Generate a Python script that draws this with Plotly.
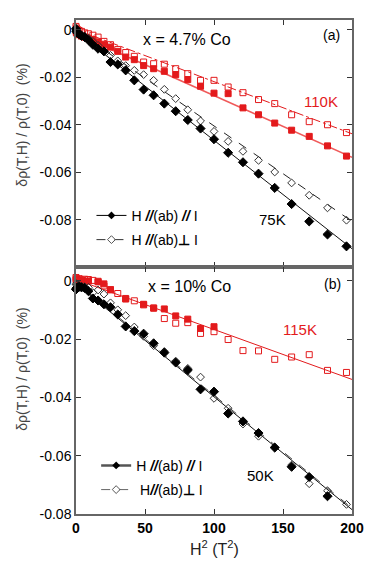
import plotly.graph_objects as go
from plotly.subplots import make_subplots

# H^2 (T^2), field swept in 0.5 T steps
H2 = [0, 0.25, 1, 2.25, 4, 6.25, 9, 12.25, 16, 20.25, 25, 30.25, 36, 42.25, 49,
      56.25, 64, 72.25, 81, 90.25, 100, 110.25, 121, 132.25, 144, 156.25, 169,
      182.25, 196]

# (a) x = 4.7% Co
a_75K_par = [0.0005, -0.0005, -0.0012, -0.0018, -0.0025, -0.0030, -0.0043, -0.0062,
             -0.0079, -0.0090, -0.0135, -0.0145, -0.0170, -0.0212, -0.0251, -0.0275,
             -0.0310, -0.0342, -0.0379, -0.0415, -0.0460, -0.0517, -0.0557, -0.0605,
             -0.0665, -0.0733, -0.0806, -0.0861, -0.0911]
a_75K_perp = [0.0, -0.0008, -0.0012, -0.0016, -0.0020, -0.0026, -0.0035, -0.0048,
              -0.0065, -0.0088, -0.0107, -0.0130, -0.0150, -0.0170, -0.0188, -0.0212,
              -0.0250, -0.0289, -0.0336, -0.0383, -0.0427, -0.0469, -0.0511, -0.0549,
              -0.0598, -0.0644, -0.0696, -0.0749, -0.0801]
a_110K_par = [-0.0005, -0.0012, -0.0015, -0.0020, -0.0026, -0.0030, -0.0035, -0.0040,
              -0.0050, -0.0060, -0.0072, -0.0090, -0.0114, -0.0125, -0.0150, -0.0163,
              -0.0174, -0.0188, -0.0209, -0.0237, -0.0266, -0.0268, -0.0328, -0.0357,
              -0.0392, -0.0422, -0.0448, -0.0488, -0.0531]
a_110K_perp = [0.0015, 0.0008, 0.0002, -0.0002, -0.0006, -0.0012, -0.0016, -0.0022,
               -0.0030, -0.0048, -0.0062, -0.0082, -0.0095, -0.0111, -0.0135, -0.0142,
               -0.0144, -0.0163, -0.0184, -0.0212, -0.0212, -0.0240, -0.0264, -0.0293,
               -0.0310, -0.0357, -0.0386, -0.0399, -0.0432]

# (b) x = 10% Co
b_50K_par = [-0.0029, -0.0025, -0.0022, -0.0020, -0.0022, -0.0024, -0.0035, -0.0060,
             -0.0067, -0.0080, -0.0090, -0.0115, -0.0156, -0.0172, -0.0181, -0.0214,
             -0.0246, -0.0280, -0.0306, -0.0372, -0.0380, -0.0455, -0.0482, -0.0522,
             -0.0572, -0.0638, -0.0673, -0.0739]
b_50K_perp = [-0.0012, -0.0010, -0.0012, -0.0015, -0.0018, -0.0020, -0.0022, -0.0040,
              -0.0031, -0.0045, -0.0075, -0.0099, -0.0119, -0.0158, -0.0190, -0.0222,
              -0.0242, -0.0275, -0.0300, -0.0330, -0.0403, -0.0437, -0.0491, -0.0533,
              -0.0570, -0.0632, -0.0696, -0.0720, -0.0767]
b_115K_par_x = [0, 1, 4, 9, 16, 20.25, 25, 36, 49, 56.25, 64, 72.25, 81, 90.25, 100]
b_115K_par = [0.0004, 0.0003, 0.0002, 0.0, -0.0003, -0.0010, -0.0030, -0.0062, -0.0080,
              -0.0093, -0.0096, -0.0120, -0.0131, -0.0163, -0.0157]
b_115K_perp = [0.0012, 0.0008, 0.0005, 0.0008, 0.0004, 0.0006, 0.0005, 0.0002, -0.0001,
               -0.0017, -0.0030, -0.0043, -0.0060, -0.0068, -0.0082, -0.0093, -0.0129,
               -0.0145, -0.0143, -0.0180, -0.0174, -0.0201, -0.0239, -0.0240, -0.0269,
               -0.0261, -0.0253, -0.0307, -0.0314]

# linear fits (end points)
fit_x = [0, 200]
fit_a_75K_par = [-0.0008, -0.0921]
fit_a_75K_perp = [-0.0002, -0.0806]
fit_a_110K_par = [-0.0016, -0.0536]
fit_a_110K_perp = [0.0002, -0.0437]
fit_b_50K_par = [-0.0010, -0.0785]
fit_b_50K_perp = [-0.0005, -0.0780]
fit_b_115K = [0.0005, -0.0338]

x_ticks = [0, 50, 100, 150, 200]
y_ticks = [0, -0.02, -0.04, -0.06, -0.08]
y_ticktext = ["0", "-0.02", "-0.04", "-0.06", "-0.08"]

RED = "#e31a1c"
FONT = "Arial, Liberation Sans, sans-serif"

fig = make_subplots(rows=2, cols=1, shared_xaxes=True, vertical_spacing=0)


def pts(x, y, row, symbol, color, fill, size=6):
    fig.add_trace(go.Scatter(
        x=x, y=y, mode="markers", showlegend=False, cliponaxis=False,
        marker=dict(symbol=symbol, size=size, color=fill,
                    line=dict(color=color, width=1)),
    ), row=row, col=1)


def fit(y, row, color, dash, width=1):
    fig.add_trace(go.Scatter(
        x=fit_x, y=y, mode="lines", showlegend=False,
        line=dict(color=color, width=width, dash=dash),
    ), row=row, col=1)


# (a)
fit(fit_a_110K_perp, 1, RED, "dashdot", 1)
fit(fit_a_110K_par, 1, "#f05a5a", "solid", 1.6)
fit(fit_a_75K_perp, 1, "#222", "dash", 1)
fit(fit_a_75K_par, 1, "#111", "solid", 1)
pts(H2, a_110K_perp, 1, "square-open", RED, RED, 6)
pts(H2, a_110K_par, 1, "square", RED, RED, 6)
pts(H2, a_75K_perp, 1, "diamond-open", "#333", "#333", 6)
pts(H2, a_75K_par, 1, "diamond", "black", "black", 7)

# (b)
fit(fit_b_115K, 2, RED, "solid", 1)
fit(fit_b_50K_perp, 2, "#444", "dash", 1)
fit(fit_b_50K_par, 2, "#111", "solid", 1)
pts(H2, b_115K_perp, 2, "square-open", RED, RED, 6)
pts(b_115K_par_x, b_115K_par, 2, "square", RED, RED, 6)
pts(H2, b_50K_perp, 2, "diamond-open", "#333", "#333", 6)
pts(H2[:len(b_50K_par)], b_50K_par, 2, "diamond", "black", "black", 7)

# legend entries
LEG_PAR = "H <b><i>//</i></b>(ab) <b><i>//</i></b> I"
LEG_PERP = "H <b><i>//</i></b>(ab)<b>⊥</b> I"
for name, sym, dash, lc, lw, leg, grp in [
    (LEG_PAR, "diamond", "solid", "black", 1, "legend", "a1"),
    (LEG_PERP, "diamond-open", "dash", "#333", 1, "legend", "a2"),
    (LEG_PAR, "diamond", "solid", "#555", 2.5, "legend2", "b1"),
    (" " + LEG_PERP.replace("H ", "H"), "diamond-open", "dash", "#666", 1, "legend2", "b2"),
]:
    fig.add_trace(go.Scatter(
        x=[None], y=[None], mode="lines+markers", name=name, legend=leg,
        legendgroup=grp,
        line=dict(color=lc, width=lw, dash=dash),
        marker=dict(symbol=sym, size=6, color="black" if sym == "diamond" else "#555"),
    ), row=1, col=1)

axis_common = dict(
    showgrid=False, zeroline=False, ticks="inside", ticklen=5, tickwidth=1,
    tickcolor="#333", showline=True, linecolor="#666", linewidth=1.5, mirror="ticks",
)
fig.update_xaxes(range=[0, 200], tickvals=x_ticks, **axis_common)
fig.update_xaxes(showticklabels=False, row=1, col=1)
fig.update_xaxes(tickfont=dict(family=FONT, size=14, color="black", weight="bold"),
                 row=2, col=1)
fig.update_yaxes(tickvals=y_ticks, ticktext=y_ticktext,
                 tickfont=dict(family=FONT, size=14, color="black"), **axis_common)
fig.update_yaxes(range=[-0.0998, 0.0042], row=1, col=1)
fig.update_yaxes(range=[-0.08, 0.0048], row=2, col=1)

ann = [
    dict(x=80.4, y=-0.0042, xref="x", yref="y", text="x = 4.7% Co", font=dict(size=16)),
    dict(x=185, y=-0.0021, xref="x", yref="y", text="(a)", font=dict(size=14)),
    dict(x=177.6, y=-0.0303, xref="x", yref="y", text="110K", font=dict(size=15, color=RED)),
    dict(x=142.7, y=-0.0800, xref="x", yref="y", text="75K", font=dict(size=15)),
    dict(x=82.5, y=-0.0020, xref="x2", yref="y2", text="x = 10% Co", font=dict(size=16)),
    dict(x=186, y=-0.0010, xref="x2", yref="y2", text="(b)", font=dict(size=14)),
    dict(x=162.2, y=-0.0167, xref="x2", yref="y2", text="115K", font=dict(size=15, color=RED)),
    dict(x=133.6, y=-0.0667, xref="x2", yref="y2", text="50K", font=dict(size=15)),
    dict(x=-0.196, y=0.788, xref="paper", yref="paper", textangle=-90,
         text="δρ(T,H) / ρ(T,0)  (%)", font=dict(size=14, color="#444")),
    dict(x=-0.196, y=0.294, xref="paper", yref="paper", textangle=-90,
         text="δρ(T,H) / ρ(T,0)  (%)", font=dict(size=14, color="#444")),
    dict(x=0.5, y=-0.0685, xref="paper", yref="paper",
         text="H<sup>2</sup> (T<sup>2</sup>)", font=dict(size=16, color="#222")),
]
for a in ann:
    a.setdefault("showarrow", False)
    a.setdefault("xanchor", "center")
    a.setdefault("yanchor", "middle")
    a["font"].setdefault("color", "black")
    a["font"]["family"] = FONT
    fig.add_annotation(**a)

legend_common = dict(bgcolor="rgba(0,0,0,0)", borderwidth=0, tracegroupgap=3,
                     font=dict(family=FONT, size=14, color="black"),
                     xanchor="left", yanchor="top")
# the page body keeps an 8px margin, so the figure is 8px smaller on each side
fig.update_layout(
    width=366, height=557,
    margin=dict(l=68, r=12, t=10, b=51),
    paper_bgcolor="white", plot_bgcolor="white",
    font=dict(family=FONT),
    legend=dict(x=0.056, y=0.636, **legend_common),
    legend2=dict(x=0.073, y=0.13, **legend_common),
)

fig.write_html("out.html")
